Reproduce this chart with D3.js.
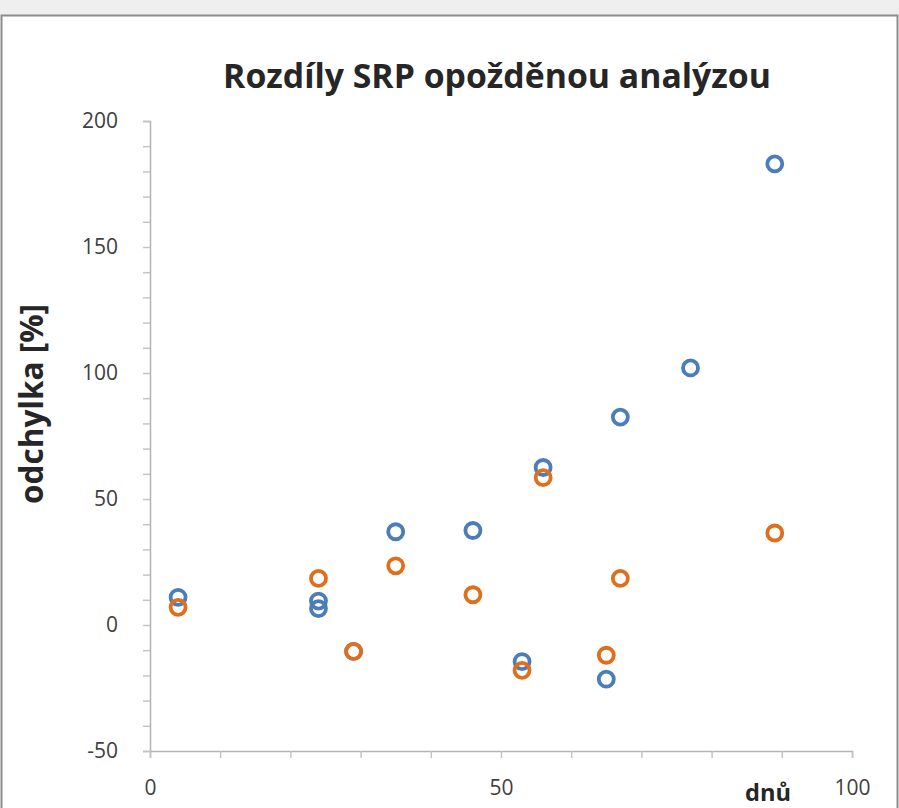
<!DOCTYPE html>
<html>
<head>
<meta charset="utf-8">
<script src="https://cdn.jsdelivr.net/npm/d3@7"></script>
<style>
  html, body { margin: 0; padding: 0; background: #fff; }
  svg { display: block; }
</style>
</head>
<body>
<svg id="chart" width="899" height="808"></svg>
<script>
// Delay in days and deviation [%] for the two SRP series
const daysA = [4, 24, 24, 29, 35, 46, 53, 56, 65, 67, 77, 89];
const devA  = [11, 9.5, 6.5, -10.5, 37, 37.5, -14.5, 62.5, -21.5, 82.5, 102, 183];

const daysB = [4, 24, 29, 35, 46, 53, 56, 65, 67, 89];
const devB  = [7, 18.5, -10.5, 23.5, 12, -18, 58.5, -12, 18.5, 36.5];

const xTicks = [0, 10, 20, 30, 40, 50, 60, 70, 80, 90, 100];
const yTicks = [-50, -40, -30, -20, -10, 0, 10, 20, 30, 40, 50, 60, 70, 80, 90, 100,
                110, 120, 130, 140, 150, 160, 170, 180, 190, 200];
const labelStep = 50;

const titleText = "Rozdíly SRP opožděnou analýzou";
const yTitle = "odchylka [%]";
const xTitle = "dnů";

const W = 899, H = 808;
const font = "'Open Sans', Lato, sans-serif";
const svg = d3.select("#chart");

// frame
svg.append("rect").attr("x", 0).attr("y", 0).attr("width", W).attr("height", 15).attr("fill", "#efefef");
svg.append("rect").attr("x", 1.5).attr("y", 15.5).attr("width", W - 3).attr("height", H)
  .attr("fill", "#fff").attr("stroke", "#8c8c8c").attr("stroke-width", 2);

const x = d3.scaleLinear().domain([0, 100]).range([150, 852]);
const y = d3.scaleLinear().domain([-50, 200]).range([751, 121]);

const fmt = d => (d % labelStep === 0 ? String(d) : "");

// scale a text element's font so it spans the given width
function fitWidth(sel, width) {
  const node = sel.node();
  const fs = parseFloat(sel.attr("font-size"));
  const w = node.getComputedTextLength();
  sel.attr("font-size", (fs * width / w).toFixed(2));
}

// y axis
const gy = svg.append("g").attr("transform", `translate(${x(0)},0)`)
  .call(d3.axisLeft(y).tickValues(yTicks).tickFormat(fmt).tickSize(7).tickPadding(25));
gy.select(".domain").attr("stroke", "#b3b3b3").attr("stroke-width", 1.5);
gy.selectAll(".tick line").attr("stroke", "#c4c4c4").attr("stroke-width", 1.5);
gy.selectAll(".tick text").attr("font-family", font).attr("font-size", 21).attr("fill", "#404040");

// x axis
const gx = svg.append("g").attr("transform", `translate(0,${y(-50)})`)
  .call(d3.axisBottom(x).tickValues(xTicks).tickFormat(fmt).tickSize(7).tickPadding(22));
gx.select(".domain").attr("stroke", "#b3b3b3").attr("stroke-width", 1.5);
gx.selectAll(".tick line").attr("stroke", "#c4c4c4").attr("stroke-width", 1.5);
gx.selectAll(".tick text").attr("font-family", font).attr("font-size", 21).attr("fill", "#404040");

// titles
const t = svg.append("text").attr("x", 497).attr("y", 88).attr("text-anchor", "middle")
  .attr("font-family", font).attr("font-weight", "bold").attr("font-size", 28)
  .attr("fill", "#262626").text(titleText);
fitWidth(t, 548);

const yt = svg.append("text").attr("transform", "translate(43,404) rotate(-90)").attr("text-anchor", "middle")
  .attr("font-family", font).attr("font-weight", "bold").attr("font-size", 23)
  .attr("fill", "#262626").text(yTitle);
fitWidth(yt, 200);

const xt = svg.append("text").attr("x", 768).attr("y", 801).attr("text-anchor", "middle")
  .attr("font-family", font).attr("font-weight", "bold").attr("font-size", 23)
  .attr("fill", "#262626").text(xTitle);
fitWidth(xt, 46);

// markers
function drawSeries(xs, ys, color) {
  svg.append("g").selectAll("circle").data(xs.map((d, i) => [d, ys[i]])).join("circle")
    .attr("cx", d => x(d[0])).attr("cy", d => y(d[1])).attr("r", 7.5)
    .attr("fill", "none").attr("stroke", color).attr("stroke-width", 3.8);
}
drawSeries(daysA, devA, "#4a7dba");
drawSeries(daysB, devB, "#df6f1c");
</script>
</body>
</html>
